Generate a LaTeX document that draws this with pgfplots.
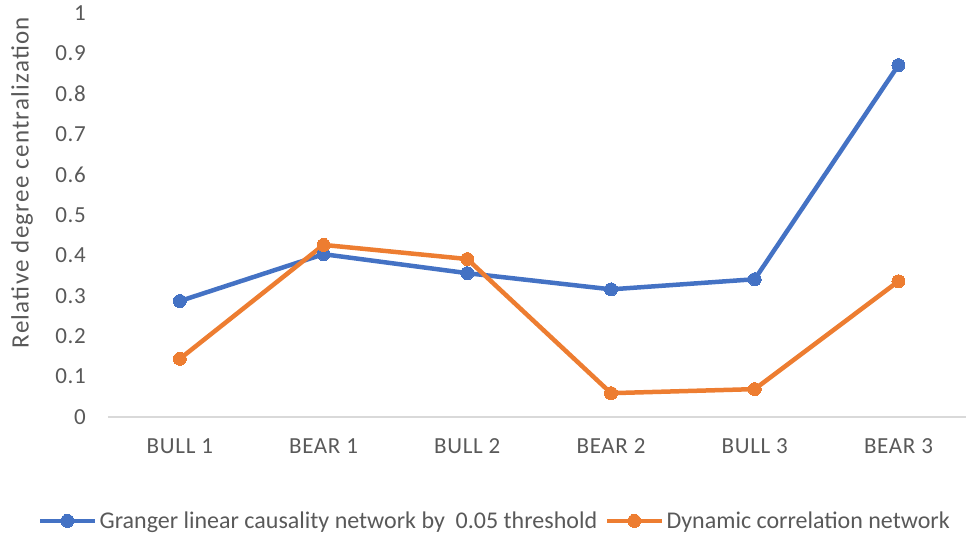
\documentclass[border=0pt]{standalone}
\usepackage{fontspec}
\setmainfont{Carlito}
\newfontfamily\ylabfont[LetterSpace=5]{Carlito}
\newfontfamily\tickfont[LetterSpace=3]{Carlito}
\usepackage{pgfplots}
\pgfplotsset{compat=1.18}
\definecolor{cblue}{HTML}{4472C4}
\definecolor{corange}{HTML}{ED7D31}
\definecolor{ctext}{HTML}{595959}
\definecolor{caxis}{HTML}{D9D9D9}
\begin{document}
\begin{tikzpicture}
\useasboundingbox (-108pt,-121pt) rectangle (858pt,417pt);
\begin{axis}[
  at={(0pt,0pt)}, anchor=south west,
  scale only axis, width=858pt, height=404pt,
  xmin=-0.5, xmax=5.47, ymin=0, ymax=1,
  axis x line*=bottom, axis y line*=left,
  axis line style={-},
  y axis line style={draw=none},
  x axis line style={caxis, line width=1.5pt},
  tick style={draw=none}, major tick length=0pt,
  xtick={0,1,2,3,4,5},
  xticklabels={BULL 1,BEAR 1,BULL 2,BEAR 2,BULL 3,BEAR 3},
  ytick={0,0.1,...,1.01},
  /pgf/number format/assume math mode=true,
  yticklabel style={/pgf/number format/fixed, /pgf/number format/precision=1, inner sep=0pt, anchor=east, xshift=-22pt},
  xticklabel style={inner sep=0pt, anchor=center, yshift=-29pt},
  tick label style={font=\tickfont\fontsize{23}{27}\selectfont, text=ctext},
  ylabel={Relative degree centralization},
  every axis y label/.style={at={(axis description cs:-0.1,0.58)}, rotate=90, anchor=center,
    font=\ylabfont\fontsize{25}{29}\selectfont, text=ctext},
  legend columns=2,
  legend style={draw=none, fill=none, at={(axis description cs:0.451,-0.257)}, anchor=center,
    font=\fontsize{24}{28}\selectfont, text=ctext, inner sep=0pt,
    /tikz/every even column/.append style={column sep=6pt}},
  legend cell align=left,
  legend image code/.code={\draw[mark repeat=2,mark phase=2,#1] plot coordinates {(0pt,0pt) (27pt,0pt) (55pt,0pt)};},
]
\addplot[cblue, line width=4.5pt, mark=*, mark size=6.5pt, mark options={line width=0pt}] coordinates {
  (0,0.287) (1,0.403) (2,0.356) (3,0.316) (4,0.341) (5,0.871)};
\addlegendentry{Granger linear causality network by~ 0.05 threshold}
\addplot[corange, line width=4.5pt, mark=*, mark size=6.5pt, mark options={line width=0pt}] coordinates {
  (0,0.144) (1,0.426) (2,0.391) (3,0.059) (4,0.069) (5,0.336)};
\addlegendentry{Dynamic correlation network}
\end{axis}
\end{tikzpicture}
\end{document}
